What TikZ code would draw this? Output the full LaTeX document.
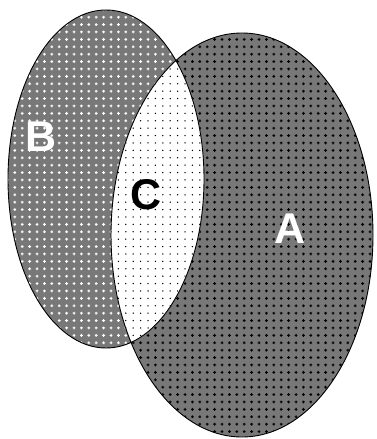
\documentclass[tikz,border=0pt]{standalone}
\usepackage{fontspec}
\setmainfont{Liberation Sans}
\usetikzlibrary{patterns}
\pgfdeclarepatternformonly{bigdots}{\pgfpoint{-2pt}{-2pt}}{\pgfpoint{2pt}{2pt}}{\pgfpoint{7.4pt}{7.4pt}}{%
  \pgfpathrectangle{\pgfpoint{-1.4pt}{-0.5pt}}{\pgfpoint{2.8pt}{1pt}}%
  \pgfpathrectangle{\pgfpoint{-0.5pt}{-1.4pt}}{\pgfpoint{1pt}{2.8pt}}%
  \pgfusepath{fill}}
\pgfdeclarepatternformonly{smalldots}{\pgfpoint{-1pt}{-1pt}}{\pgfpoint{1pt}{1pt}}{\pgfpoint{7.4pt}{7.4pt}}{%
  \pgfpathcircle{\pgfpointorigin}{0.75pt}\pgfusepath{fill}}
\definecolor{fillgrey}{gray}{0.47}
\tikzset{
  lbl/.style={font=\fontsize{43}{43}\selectfont\bfseries, inner sep=0pt},
  outline/.style={draw=black, line width=0.9pt}
}
\begin{document}
\begin{tikzpicture}[x=1pt,y=-1pt]
\useasboundingbox[fill=white] (0,0) rectangle (376,439);
\def\ellA{(242,235) ellipse [x radius=131pt, y radius=202pt]}
\def\ellB{(106,179) ellipse [x radius=98pt, y radius=169pt]}
% A
\fill[fillgrey] \ellA;
\fill[pattern=bigdots, pattern color=black] \ellA;
% B
\fill[fillgrey] \ellB;
\fill[pattern=bigdots, pattern color=white] \ellB;
% C = intersection
\begin{scope}
  \clip \ellA;
  \fill[white] \ellB;
  \fill[pattern=smalldots, pattern color=black] \ellB;
\end{scope}
% outlines
\draw[outline] \ellA;
\draw[outline] \ellB;
% labels
\node[lbl, text=white] (B) at (41,137) {B};
\node[lbl, text=black] (C) at (146,195) {C};
\node[lbl, text=white] (A) at (290,229) {A};
\end{tikzpicture}
\end{document}
